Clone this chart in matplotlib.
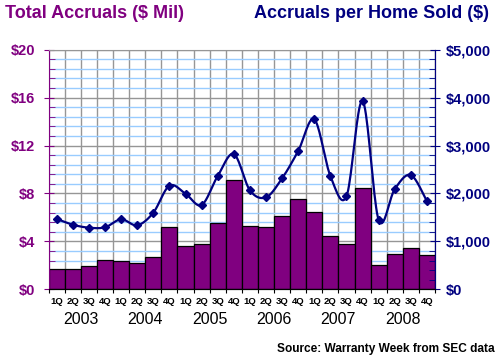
import numpy as np
import matplotlib
matplotlib.use("Agg")
import matplotlib.pyplot as plt
from matplotlib.ticker import MultipleLocator, FuncFormatter

plt.rcParams["font.family"] = ["Liberation Sans", "DejaVu Sans"]

years = ["2003", "2004", "2005", "2006", "2007", "2008"]
quarters = ["1Q", "2Q", "3Q", "4Q"]

# total accruals, $ millions (left axis)
accruals = [1.72, 1.72, 1.92, 2.42, 2.34, 2.17, 2.67, 5.18,
            3.59, 3.76, 5.53, 9.10, 5.26, 5.18, 6.09, 7.51,
            6.43, 4.42, 3.76, 8.45, 2.00, 2.92, 3.42, 2.84]
# accruals per home sold, $ (right axis)
per_home = [1470, 1348, 1286, 1294, 1461, 1336, 1599, 2162,
            1995, 1759, 2364, 2823, 2066, 1920, 2316, 2886,
            3547, 2364, 1941, 3929, 1446, 2093, 2385, 1836]

PURPLE = "#800080"
NAVY = "#000080"


def smooth(x, y, n=20):
    # Catmull-Rom style smoothing like a spreadsheet "smoothed line"
    x = np.asarray(x, float)
    y = np.asarray(y, float)
    px = np.concatenate([[x[0]], x, [x[-1]]])
    py = np.concatenate([[y[0]], y, [y[-1]]])
    xs, ys = [], []
    t = np.linspace(0, 1, n)
    for i in range(1, len(px) - 2):
        p0x, p1x, p2x, p3x = px[i - 1], px[i], px[i + 1], px[i + 2]
        p0y, p1y, p2y, p3y = py[i - 1], py[i], py[i + 1], py[i + 2]
        c1x, c1y = p1x + (p2x - p0x) / 6, p1y + (p2y - p0y) / 6
        c2x, c2y = p2x - (p3x - p1x) / 6, p2y - (p3y - p1y) / 6
        b = [(1 - t) ** 3, 3 * (1 - t) ** 2 * t, 3 * (1 - t) * t ** 2, t ** 3]
        xs.append(b[0] * p1x + b[1] * c1x + b[2] * c2x + b[3] * p2x)
        ys.append(b[0] * p1y + b[1] * c1y + b[2] * c2y + b[3] * p2y)
    return np.concatenate(xs), np.concatenate(ys)


fig = plt.figure(figsize=(5.0, 3.62), dpi=100)
ax = fig.add_axes([0.0974, 0.2008, 0.7726, 0.6619])
x = np.arange(len(accruals))

ax.bar(x, accruals, width=1.0, color=PURPLE, edgecolor="black", linewidth=0.9, zorder=2)
ax.set_xlim(-0.5, len(accruals) - 0.5)
ax.set_ylim(0, 20)
ax.set_axisbelow(True)

ax.yaxis.set_major_locator(MultipleLocator(4))
ax.yaxis.set_minor_locator(MultipleLocator(0.8))
ax.yaxis.set_major_formatter(FuncFormatter(lambda v, p: f"${v:.0f}"))
ax.grid(which="minor", axis="y", color="#99ccff", linewidth=1.0, zorder=0)
ax.grid(which="major", axis="y", color="#969696", linewidth=1.0, zorder=0.5)

# vertical grid at quarter boundaries, quarter labels at centers
ax.set_xticks(np.arange(-0.5, len(accruals), 1.0))
ax.set_xticklabels([])
ax.set_xticks(x, minor=True)
ax.set_xticklabels(quarters * len(years), minor=True, fontsize=6.8, fontweight="bold")
ax.grid(which="major", axis="x", color="#969696", linewidth=1.0, zorder=0.5)
ax.tick_params(axis="x", which="major", direction="out", length=3, color="black")
ax.tick_params(axis="x", which="minor", length=0, pad=5.5)

ax.tick_params(axis="y", which="major", direction="inout", length=7, color=PURPLE,
               labelcolor=PURPLE, labelsize=10.5, pad=6)
ax.tick_params(axis="y", which="minor", direction="in", length=4, color=PURPLE)
for lab in ax.get_yticklabels():
    lab.set_fontweight("bold")

ax.spines["left"].set_color(PURPLE)
ax.spines["top"].set_color("#969696")
ax.spines["bottom"].set_color("black")

for i, yr in enumerate(years):
    ax.text(i * 4 + 1.5, -0.125, yr, transform=ax.get_xaxis_transform(),
            ha="center", va="center", fontsize=11.5)

ax2 = ax.twinx()
ax2.set_ylim(0, 5000)
sx, sy = smooth(x, per_home)
ax2.plot(sx, sy, color=NAVY, linewidth=1.6, zorder=3)
ax2.plot(x, per_home, linestyle="none", marker="D", markersize=4.5, color=NAVY, zorder=4)
ax2.yaxis.set_major_locator(MultipleLocator(1000))
ax2.yaxis.set_minor_locator(MultipleLocator(200))
ax2.yaxis.set_major_formatter(FuncFormatter(lambda v, p: f"${v:,.0f}"))
ax2.tick_params(axis="y", which="major", direction="inout", length=7, color=NAVY,
                labelcolor=NAVY, labelsize=10.5, pad=4)
ax2.tick_params(axis="y", which="minor", direction="in", length=4, color=NAVY)
for lab in ax2.get_yticklabels():
    lab.set_fontweight("bold")
ax2.spines["right"].set_color(NAVY)
ax2.spines["left"].set_visible(False)
ax2.spines["top"].set_visible(False)

fig.text(0.01, 0.962, "Total Accruals ($ Mil)", color=PURPLE, fontsize=13,
         fontweight="bold", ha="left", va="center")
fig.text(0.978, 0.962, "Accruals per Home Sold ($)", color=NAVY, fontsize=13,
         fontweight="bold", ha="right", va="center")
fig.text(0.99, 0.036, "Source: Warranty Week from SEC data", color="black",
         fontsize=8.6, fontweight="bold", ha="right", va="center")

fig.savefig("out.png", dpi=100)
